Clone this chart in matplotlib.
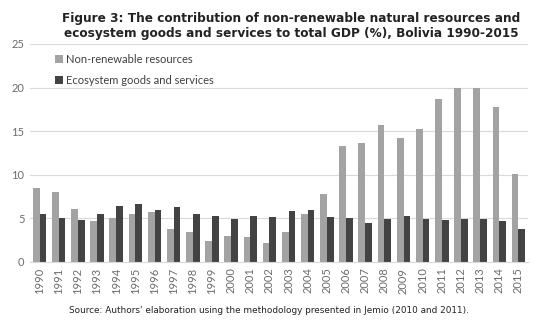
import numpy as np
import matplotlib.pyplot as plt

years = [str(y) for y in range(1990, 2016)]
non_renewable = [8.5, 8.0, 6.05, 4.7, 5.0, 5.5, 5.75, 3.8, 3.45, 2.45, 3.0, 2.85, 2.2,
                 3.4, 5.55, 7.85, 13.25, 13.7, 15.7, 14.2, 15.25, 18.65, 19.9, 20.0, 17.8, 10.1]
ecosystem = [5.55, 5.1, 4.8, 5.5, 6.4, 6.7, 6.0, 6.35, 5.5, 5.25, 4.95, 5.25, 5.2,
             5.8, 5.95, 5.2, 5.1, 4.5, 4.9, 5.3, 4.9, 4.8, 4.9, 4.9, 4.75, 3.75]

plt.rcParams['font.family'] = ['Lato', 'DejaVu Sans']

fig = plt.figure(figsize=(5.33, 3.23), dpi=100)
ax = fig.add_axes([30 / 533, 1 - 262 / 323, 498 / 533, 218 / 323])

x = np.arange(len(years))
w = 0.35
ax.bar(x - w / 2, non_renewable, w, color='#a3a3a3', label='Non-renewable resources', zorder=2)
ax.bar(x + w / 2, ecosystem, w, color='#434343', label='Ecosystem goods and services', zorder=2)

ax.set_xlim(-0.5, len(years) - 0.5)
ax.set_ylim(0, 25)
ax.set_yticks([0, 5, 10, 15, 20, 25])
ax.set_xticks(x)
ax.set_xticklabels(years, rotation=90)
ax.tick_params(axis='both', length=0, labelsize=8, colors='#6b6b6b', pad=4)
ax.yaxis.grid(True, color='#d9d9d9', linewidth=0.8, zorder=0)
for s in ['top', 'right', 'left']:
    ax.spines[s].set_visible(False)
ax.spines['bottom'].set_color('#d9d9d9')

ax.legend(loc='upper left', bbox_to_anchor=(0.03, 1.0), frameon=False, fontsize=8,
          handlelength=0.7, handleheight=0.7, handletextpad=0.3, labelspacing=0.9,
          labelcolor='#404040')

fig.text(0.546, 0.92, 'Figure 3: The contribution of non-renewable natural resources and\n'
         'ecosystem goods and services to total GDP (%), Bolivia 1990-2015',
         ha='center', va='center', fontsize=8.75, fontweight='bold', color='#222222',
         family='DejaVu Sans', linespacing=1.2)
fig.text(0.505, 0.04, "Source: Authors' elaboration using the methodology presented in Jemio (2010 and 2011).",
         ha='center', va='center', fontsize=6.4, color='#222222', family='DejaVu Sans')

fig.savefig('out.png', dpi=100)
